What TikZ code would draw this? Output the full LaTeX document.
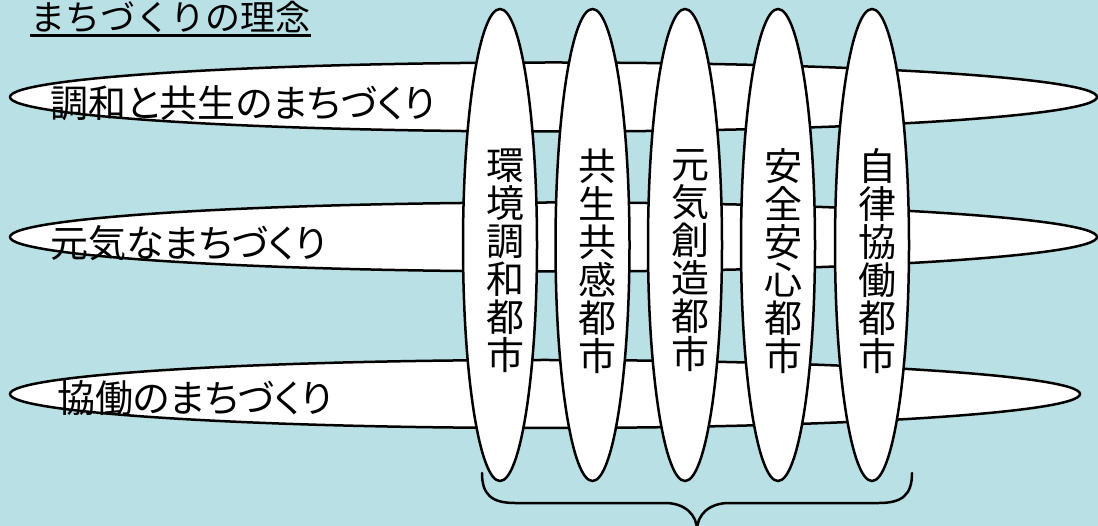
\documentclass[tikz,border=0pt]{standalone}
\usepackage{fontspec}
\setmainfont[RawFeature={+palt}]{Noto Sans CJK JP}
\newfontfamily\titlefont{Noto Sans CJK JP}
\usetikzlibrary{shapes.geometric}
\definecolor{bgblue}{RGB}{185,224,228}
\begin{document}
\begin{tikzpicture}[x=1pt,y=-1pt,
  hell/.style={ellipse, draw=black, fill=white, line width=2.5pt, inner sep=0pt},
  vell/.style={ellipse, draw=black, fill=white, line width=2.5pt, inner sep=0pt, minimum width=74pt, minimum height=472pt},
  hlabel/.style={anchor=west, inner sep=0pt, font=\fontsize{38}{40}\selectfont},
  vlabel/.style={inner sep=0pt, align=center, font=\fontsize{38}{38}\selectfont},
  brace/.style={draw=black, line width=2.5pt, line cap=round, line join=round}
]
\fill[bgblue] (0,0) rectangle (1098,526);
\useasboundingbox (0,0) rectangle (1098,526);

% horizontal ellipses
\node[hell, minimum width=1087pt, minimum height=69pt] (h1) at (553.5,97) {};
\node[hell, minimum width=1087pt, minimum height=69pt] (h2) at (553.5,237) {};
\node[hell, minimum width=1070pt, minimum height=68pt] (h3) at (545,394) {};

\node[hlabel] (t1) at (50,103.5) {調和と共生のまちづくり};
\node[hlabel] (t2) at (50,243) {元気なまちづくり};
\node[hlabel] (t3) at (57,398) {協働のまちづくり};

% vertical ellipses
\node[vell] (v1) at (500,245) {};
\node[vell] (v2) at (592.5,245) {};
\node[vell] (v3) at (685,245) {};
\node[vell] (v4) at (778,245) {};
\node[vell] (v5) at (872,245) {};

\node[vlabel] (s1) at (505,261) {環\\境\\調\\和\\都\\市};
\node[vlabel] (s2) at (597.5,261) {共\\生\\共\\感\\都\\市};
\node[vlabel] (s3) at (690,261) {元\\気\\創\\造\\都\\市};
\node[vlabel] (s4) at (783,261) {安\\全\\安\\心\\都\\市};
\node[vlabel] (s5) at (877,261) {自\\律\\協\\働\\都\\市};

% title
\node[anchor=base west, inner sep=0pt, font=\titlefont\fontsize{35}{40}\selectfont] (title) at (30,30.5) {まちづくりの理念};
\draw[line width=2.6pt] (title.base west) ++(0,5) -- ++(281,0);

% brace
\draw[brace] (482,473) .. controls (482,495) and (492,503) .. (515,503) -- (665,503)
  .. controls (685,503) and (697,515) .. (697,530);
\draw[brace] (912,473) .. controls (912,495) and (902,503) .. (879,503) -- (729,503)
  .. controls (709,503) and (697,515) .. (697,530);
\end{tikzpicture}
\end{document}
